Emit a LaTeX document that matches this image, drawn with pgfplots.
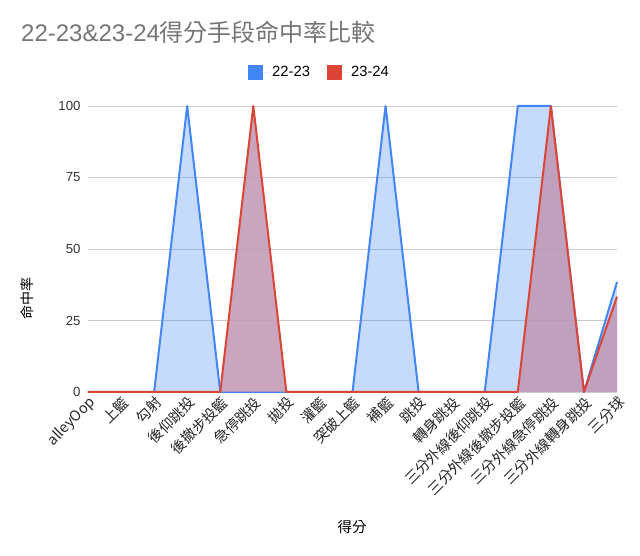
\documentclass[border=0pt]{standalone}
\usepackage{fontspec}
\setmainfont{Liberation Sans}
\newfontfamily\cjk{Noto Sans CJK TC}
\usepackage{pgfplots}
\pgfplotsset{compat=1.18}
\definecolor{gblue}{HTML}{4285F4}
\definecolor{gred}{HTML}{DB4437}
\definecolor{bluefill}{HTML}{4285F4}
\definecolor{mauve}{RGB}{191,150,177}
\definecolor{tgray}{HTML}{757575}
\begin{document}
\begin{tikzpicture}
\useasboundingbox (0,0) rectangle (640pt,556pt);
\node[anchor=base west, text=tgray, inner sep=0pt] at (21pt,514pt) {\fontsize{24}{28}\selectfont 22-23\&23-24{\cjk 得分手段命中率比較}};
\node[rotate=90, font=\fontsize{14}{16}\selectfont\cjk, inner sep=0pt] at (27pt,257pt) {命中率};
\node[font=\fontsize{14.5}{16}\selectfont\cjk, inner sep=0pt] at (352pt,29pt) {得分};
\begin{axis}[
  at={(88pt,164pt)}, anchor=south west,
  scale only axis, width=529pt, height=286pt,
  xmin=0, xmax=16, ymin=0, ymax=100,
  clip=false,
  axis line style={draw=none},
  major tick length=0pt,
  ytick={0,25,50,75,100},
  ymajorgrids, major grid style={color=black!20, line width=0.8pt},
  xtick={0,...,16},
  xticklabels={alleyOop,上籃,勾射,後仰跳投,後撤步投籃,急停跳投,拋投,灌籃,突破上籃,補籃,跳投,轉身跳投,三分外線後仰跳投,三分外線後撤步投籃,三分外線急停跳投,三分外線轉身跳投,三分球},
  x tick label style={rotate=45, anchor=north east, font=\fontsize{14.5}{16}\selectfont\cjk, color=black!85, inner sep=2pt},
  y tick label style={font=\fontsize{13.2}{15}\selectfont, color=black!80, xshift=-4pt},
  /pgf/number format/assume math mode=true,
  legend columns=2,
  legend style={at={(0.3025,1.117)}, anchor=west, draw=none, fill=none, font=\fontsize{14.8}{17}\selectfont, /tikz/every even column/.append style={column sep=15pt}, inner sep=0pt},
  legend image code/.code={\fill[#1] (0pt,-7pt) rectangle (15pt,8pt); \path (0pt,0pt) -- (22pt,0pt);},
]
\addlegendimage{fill=gblue, draw=none}
\addlegendentry{22-23}
\addlegendimage{fill=gred, draw=none}
\addlegendentry{23-24}
\addplot[forget plot, draw=none, fill=bluefill, fill opacity=0.3] coordinates {
(0,0) (1,0) (2,0) (3,100) (4,0) (5,0) (6,0) (7,0) (8,0) (9,100) (10,0) (11,0) (12,0) (13,100) (14,100) (15,0) (16,38.46)} \closedcycle;
\addplot[forget plot, gblue, line width=2pt, line join=round] coordinates {
(0,0) (1,0) (2,0) (3,100) (4,0) (5,0) (6,0) (7,0) (8,0) (9,100) (10,0) (11,0) (12,0) (13,100) (14,100) (15,0) (16,38.46)};
\addplot[forget plot, draw=none, fill=mauve, fill opacity=0.85] coordinates {
(0,0) (1,0) (2,0) (3,0) (4,0) (5,100) (6,0) (7,0) (8,0) (9,0) (10,0) (11,0) (12,0) (13,0) (14,100) (15,0) (16,33.33)} \closedcycle;
\addplot[forget plot, gred, line width=2pt, line join=round] coordinates {
(0,0) (1,0) (2,0) (3,0) (4,0) (5,100) (6,0) (7,0) (8,0) (9,0) (10,0) (11,0) (12,0) (13,0) (14,100) (15,0) (16,33.33)};
\end{axis}
\end{tikzpicture}
\end{document}
